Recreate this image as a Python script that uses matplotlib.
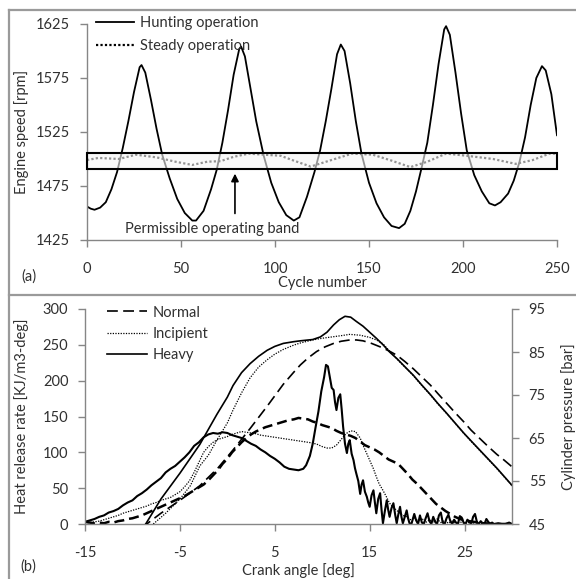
import matplotlib
matplotlib.use("Agg")
import matplotlib.pyplot as plt
from matplotlib.patches import Rectangle
from matplotlib.lines import Line2D

plt.rcParams['font.family'] = ['Lato', 'DejaVu Sans']
plt.rcParams['font.size'] = 10.5
plt.rcParams['axes.unicode_minus'] = False

TXT = '#303030'
AXC = '#868686'

# ---------------- (a) engine speed data ----------------
hunt_cycle = [0, 2, 4, 7, 10, 13, 16, 19, 22, 25, 28, 29, 31, 34, 37, 40, 44, 48, 52, 56, 58,
              62, 66, 69, 72, 75, 78, 81, 82, 84, 87, 90, 94, 98, 102, 106, 110, 113,
              117, 121, 124, 127, 130, 133, 135, 137, 140, 143, 146, 150, 154, 158, 162, 166,
              169, 172, 175, 178, 181, 184, 187, 190, 191, 193, 196, 199, 202, 206, 210, 214,
              217, 220, 224, 227, 230, 233, 236, 239, 242, 244, 247, 250]
hunt_rpm = [1456, 1454, 1453, 1455, 1460, 1472, 1488, 1510, 1535, 1562, 1585, 1587, 1580, 1555,
            1528, 1504, 1482, 1463, 1450, 1443, 1443,
            1452, 1472, 1490, 1515, 1545, 1578, 1602, 1604, 1595, 1565, 1535, 1503, 1478,
            1460, 1448, 1443, 1446,
            1465, 1488, 1508, 1535, 1565, 1597, 1606, 1600, 1570, 1535, 1505, 1478, 1459,
            1446, 1438, 1436,
            1440, 1452, 1470, 1492, 1515, 1550, 1588, 1620, 1623, 1615, 1580, 1542, 1508,
            1485, 1470, 1459,
            1457, 1460, 1468, 1480, 1497, 1520, 1550, 1575, 1586, 1582, 1560, 1522]

steady_cycle = [0, 6, 17, 26, 37, 47, 56, 64, 71, 78, 86, 94, 103, 110, 119, 129, 141, 152,
                162, 172, 181, 191, 202, 216, 228, 237, 246, 250]
steady_rpm = [1499, 1501, 1500, 1504, 1501.5, 1497.5, 1494.5, 1497.5, 1498, 1502, 1505, 1504,
              1503, 1498.5, 1493, 1498.5, 1505, 1504, 1498.5, 1492.5, 1497.5, 1505, 1503,
              1500, 1495.5, 1499, 1505, 1505]

band_low, band_high = 1491, 1506
arrow_cycle = 78.7

# ---------------- (b) combustion data ----------------
p_heavy_ca = [-9.0, -8.6, -7.0, -5.0, -2.9, -1.1, 0.0, 0.6, 1.5, 2.4, 3.3, 4.2, 5.0, 5.9, 7.0,
              7.7, 9.0, 9.8, 10.5, 11.2, 11.8, 12.4, 13.0, 13.6, 14.3, 15.0, 15.7, 16.4, 17.1,
              17.9, 18.7, 19.6, 20.5, 21.4, 22.2, 23.1, 24.0, 24.9, 25.7, 26.6, 27.5, 28.4,
              29.2, 30.0]
p_heavy = [44.0, 45.0, 50.8, 56.8, 63.5, 70.5, 74.5, 77.2, 80.2, 82.3, 84.0, 85.4, 86.3, 87.0,
           87.4, 87.6, 87.9, 88.5, 89.6, 91.3, 92.5, 93.3, 93.1, 92.1, 91.0, 89.6, 88.2, 86.7,
           85.0, 83.4, 81.6, 79.6, 77.3, 75.1, 73.0, 70.8, 68.5, 66.2, 64.3, 62.2, 60.1, 58.0,
           56.0, 54.0]

p_inc_ca = [-8.5, -7.8, -6.5, -5.0, -3.9, -2.9, -2.0, -1.1, 0.0, 0.6, 1.5, 2.4, 3.3, 4.2, 5.0,
            5.9, 7.0, 7.7, 9.0, 10.0, 11.0, 12.0, 12.9, 14.0, 15.0, 15.7, 16.4, 17.1, 17.9,
            18.7, 19.6, 20.5, 21.4, 22.2, 23.1, 24.0, 24.9, 25.7, 26.6, 27.5, 28.4, 29.2, 30.0]
p_inc = [44.0, 45.0, 47.5, 50.8, 53.9, 58.5, 61.0, 64.5, 68.5, 71.5, 75.5, 79.0, 81.5, 83.2,
         84.5, 85.6, 86.6, 87.1, 87.8, 88.2, 88.5, 88.8, 89.1, 88.9, 88.4, 87.8, 86.9, 85.2,
         83.3, 81.5, 79.5, 77.2, 75.0, 72.9, 70.7, 68.4, 66.1, 64.2, 62.1, 60.0, 57.9, 55.9,
         53.9]

p_norm_ca = [-9.0, -8.5, -7.0, -5.0, -2.9, -1.0, 0.6, 2.4, 4.2, 5.9, 7.0, 7.7, 8.5, 9.4, 10.3,
             11.2, 12.0, 12.9, 13.6, 14.3, 15.2, 16.1, 17.0, 17.9, 18.7, 19.6, 20.5, 21.4,
             22.2, 23.1, 24.0, 24.9, 25.7, 26.6, 27.5, 28.4, 29.2, 30.0]
p_norm = [44.0, 45.0, 47.5, 50.5, 53.9, 58.0, 62.2, 67.2, 72.4, 77.5, 80.3, 82.0, 83.6, 85.1,
          86.2, 87.0, 87.5, 87.8, 87.8, 87.6, 87.0, 86.2, 85.3, 84.2, 82.8, 81.1, 79.2, 77.3,
          75.3, 73.1, 70.9, 68.8, 66.8, 64.9, 63.0, 61.2, 59.8, 58.3]

hrr_heavy_ca = [-15, -14.5, -14, -13.5, -13, -12.5, -12, -11.5, -11, -10.5, -10, -9.5, -9,
                -8.5, -8, -7.5, -7, -6.5, -6, -5.5, -5, -4.5, -4, -3.5, -3, -2.5, -2, -1.5,
                -1, -0.5, 0, 0.5, 1, 1.5, 2, 2.5, 3, 3.5, 4, 4.5, 5, 5.5, 6, 6.5, 7, 7.5, 8,
                8.3, 8.7, 9.0, 9.3, 9.6, 9.9, 10.2, 10.4, 10.6, 10.8, 11.0, 11.2, 11.35, 11.5,
                11.7, 11.9, 12.05, 12.2, 12.4, 12.6, 12.75, 12.9, 13.1, 13.3, 13.45, 13.6,
                13.8, 14.0, 14.15, 14.3, 14.5, 14.7, 14.85, 15.0, 15.2, 15.4, 15.55, 15.7,
                15.9, 16.1, 16.25, 16.4, 16.6, 16.8, 16.95, 17.1, 17.3, 17.5, 17.7, 17.85,
                18.0, 18.2, 18.35, 18.5, 18.7, 18.9, 19.05, 19.2, 19.4, 19.7, 19.9, 20.1,
                20.3, 20.5, 20.7, 20.9, 21.1, 21.3, 21.5, 21.7, 21.9, 22.1, 22.3, 22.5, 22.7,
                22.9, 23.1, 23.3, 23.5, 23.7, 23.9, 24.1, 24.3, 24.5, 24.7, 24.9, 25.1, 25.3,
                25.5, 25.7, 25.9, 26.1, 26.3, 26.5, 26.7, 26.9, 27.1, 27.3, 27.5, 27.7, 27.9,
                28.1, 28.5, 28.9, 29.3, 29.7, 30.0]
hrr_heavy = [3, 5, 7, 10, 12, 16, 18, 21, 26, 30, 33, 39, 43, 48, 54, 59, 64, 72, 77, 81, 87,
             93, 100, 109, 114, 121, 125, 127, 126, 128, 127, 124, 122, 120, 116, 112, 109,
             104, 100, 95, 91, 86, 80, 77, 76, 75, 77,
             82, 95, 112, 135, 157, 185, 205, 222, 220, 205, 190, 187, 170, 159,
             176, 181, 160, 136, 112, 99, 112, 117, 98, 89, 78, 70,
             60, 42, 55, 61, 45, 38, 30, 24, 40, 47, 30, 15,
             35, 43, 20, 1, 18, 33, 20, 10, 22, 29, 12, 1,
             12, 24, 10, 1, 10, 19, 8, 1, 0, 14, 5, 0,
             12, 2, 0, 8, 15, 4, 0, 10, 3, 0, 12, 16, 2,
             0, 8, 13, 4, 0, 6, 2, 0, 11, 9, 2, 0, 6,
             3, 0, 10, 14, 3, 0, 4, 1, 0, 7, 3, 0, 2,
             0, 1, 0, 0, 2, 0]

hrr_norm_ca = [-15, -14.5, -14, -13.5, -13, -12.5, -12, -11.5, -11, -10.5, -10, -9.5, -9, -8.5,
               -8, -7.5, -7, -6.5, -6, -5.5, -5, -4.5, -4, -3.5, -3, -2.5, -2, -1.5, -1, -0.5,
               0, 0.5, 1, 1.5, 2, 2.5, 3, 3.5, 4, 4.5, 5, 5.5, 6, 6.5, 7, 7.5, 8, 8.5, 9, 9.5,
               10, 10.5, 11, 11.5, 12, 12.5, 13, 13.5, 14, 14.5, 15, 15.5, 16, 16.5, 17, 17.5,
               18, 18.5, 19, 19.5, 20, 20.5, 21, 21.5, 22, 22.5, 23, 23.5, 24, 24.5, 25, 25.5,
               26, 26.5, 27, 28, 29, 30]
hrr_norm = [3, 2, 1, 2, 1, 3, 2, 4, 5, 7, 8, 10, 12, 15, 18, 21, 24, 27, 30, 33, 36, 39, 43,
            47, 51, 55, 61, 68, 75, 84, 91, 100, 107, 114, 120, 125, 129, 132, 135, 137, 139,
            141, 143, 145, 146, 148, 147, 146, 143, 141, 138, 136, 134, 130, 127, 125, 123,
            120, 115, 110, 107, 104, 100, 95, 90, 87, 84, 77, 70, 62, 56, 49, 42, 35, 28, 23,
            18, 14, 10, 7, 5, 4, 3, 2, 1, 0.5, 0, 0]

hrr_inc_ca = [-15, -14.5, -14, -13.5, -13, -12.5, -12, -11.5, -11, -10.5, -10, -9.5, -9, -8.5,
              -8, -7.5, -7, -6.5, -6, -5.5, -5, -4.5, -4, -3.5, -3, -2.5, -2, -1.5, -1, -0.5,
              0, 0.5, 1, 1.5, 2, 2.5, 3, 3.5, 4, 4.5, 5, 5.5, 6, 6.5, 7, 7.5, 8, 8.5, 9, 9.5,
              10, 10.5, 11, 11.5, 12, 12.5, 13, 13.5, 14, 14.3, 14.7, 15.0, 15.4, 15.7, 16.0,
              16.4, 16.8, 17.1, 17.5, 17.85, 18.2, 18.5, 18.9, 19.3, 19.7, 20.1, 20.5, 20.9,
              21.3, 21.7, 22.1, 22.5, 22.9, 23.3, 23.7, 24.1, 24.5, 25, 25.5, 26, 27, 28, 29,
              30]
hrr_inc = [2, 2, 3, 4, 6, 8, 10, 12, 15, 17, 19, 21, 23, 25, 28, 30, 33, 35, 37, 41, 45, 52,
           60, 72, 86, 100, 108, 114, 118, 120, 122, 125, 127, 129, 128, 127, 126, 124, 123,
           122, 121, 120, 119, 118, 117, 116, 115, 114, 113, 111, 108, 106, 106, 110, 118,
           126, 130, 129, 120, 110, 98, 89, 77, 66, 56,
           47, 37, 29, 23, 19, 15, 12, 10, 6, 9, 4, 8, 2,
           6, 3, 7, 2, 5, 1, 4, 0, 3, 1, 2, 0, 1, 0, 0,
           0]

# ---------------- figure ----------------
W, H = 576, 579
fig = plt.figure(figsize=(W / 100, H / 100), dpi=100)

def frac(x0, y0, x1, y1):
    return [x0 / W, 1 - y1 / H, (x1 - x0) / W, (y1 - y0) / H]

# panel frames
for (xa, ya, xb, yb) in [(9, 9.5, W, 9.5), (9, 9.5, 9, H), (9, 295, W, 295)]:
    fig.add_artist(Line2D([xa / W, xb / W], [1 - ya / H, 1 - yb / H], color='#9a9a9a', lw=1.6))

def style(ax, sides):
    for s in ['left', 'right', 'top', 'bottom']:
        ax.spines[s].set_visible(s in sides)
        ax.spines[s].set_color(AXC)
        ax.spines[s].set_linewidth(1.0)
    ax.tick_params(direction='out', length=5, width=1.0, color=AXC, labelcolor=TXT,
                   labelsize=10.5)
    ax.tick_params(axis='y', pad=7)
    ax.tick_params(axis='x', pad=11)

# ---- (a)
ax = fig.add_axes(frac(87, 24, 557, 240))
style(ax, ['left', 'bottom'])
ax.plot(hunt_cycle, hunt_rpm, color='black', lw=1.3, label='Hunting operation')
ax.plot(steady_cycle, steady_rpm, color='black', lw=1.6, ls=(0, (1, 1)),
        label='Steady operation')
ax.add_patch(Rectangle((0, band_low), 250, band_high - band_low, facecolor=(0.96, 0.96, 0.96, 0.6),
                       edgecolor='black', lw=1.5, zorder=5, clip_on=False))
ax.annotate('', xy=(arrow_cycle, 1489), xytext=(arrow_cycle, 1447),
            arrowprops=dict(arrowstyle='-|>', color='black', lw=1.2, mutation_scale=11))
ax.text(66.8, 1435, 'Permissible operating band', ha='center', va='center', fontsize=10.5,
        color=TXT)
ax.set_xlim(0, 250)
ax.set_ylim(1425, 1625)
ax.set_xticks(range(0, 251, 50))
ax.set_yticks(range(1425, 1626, 50))
ax.set_xlabel('Cycle number', fontsize=10.5, color=TXT)
ax.xaxis.set_label_coords(0.5, -0.165)
ax.set_ylabel('Engine speed [rpm]', fontsize=10.5, color=TXT)
ax.yaxis.set_label_coords(-0.123, 0.5)
leg = ax.legend(loc='upper left', bbox_to_anchor=(0.019, 1.036), frameon=False,
                borderpad=0, borderaxespad=0, handlelength=2.6, handletextpad=0.4,
                labelspacing=0.6, fontsize=10.5)
for t in leg.get_texts():
    t.set_color(TXT)
fig.text(29 / W, 1 - 277 / H, '(a)', ha='center', va='center', fontsize=10.5, color=TXT)

# ---- (b)
bx = fig.add_axes(frac(85, 309, 512, 524))
style(bx, ['left', 'bottom'])
px = bx.twinx()
style(px, ['right'])
px.tick_params(axis='y', pad=7)

dash = (0, (6.5, 3.2))
dot = (0, (1, 1.1))
bx.plot(hrr_norm_ca, hrr_norm, color='black', lw=1.8, ls=(0, (4, 2)))
bx.plot(hrr_inc_ca, hrr_inc, color='black', lw=0.9, ls=dot)
bx.plot(hrr_heavy_ca, hrr_heavy, color='black', lw=1.5)
h1, = px.plot(p_norm_ca, p_norm, color='black', lw=1.2, ls=dash, label='Normal')
h2, = px.plot(p_inc_ca, p_inc, color='black', lw=0.9, ls=dot, label='Incipient')
h3, = px.plot(p_heavy_ca, p_heavy, color='black', lw=1.2, label='Heavy')

bx.set_xlim(-15, 30)
bx.set_ylim(0, 300)
px.set_ylim(45, 95)
bx.set_xticks([-15, -5, 5, 15, 25])
bx.set_yticks(range(0, 301, 50))
px.set_yticks(range(45, 96, 10))
bx.set_xlabel('Crank angle [deg]', fontsize=10.5, color=TXT)
bx.xaxis.set_label_coords(0.5, -0.18)
bx.set_ylabel('Heat release rate [KJ/m3-deg]', fontsize=10.5, color=TXT)
bx.yaxis.set_label_coords(-0.131, 0.5)
px.set_ylabel('Cylinder pressure [bar]', fontsize=10.5, color=TXT)
px.yaxis.set_label_coords(1.115, 0.5)
leg2 = px.legend(handles=[h1, h2, h3], loc='upper left', bbox_to_anchor=(0.0515, 1.016),
                 frameon=False, borderpad=0, borderaxespad=0, handlelength=2.75,
                 handletextpad=0.35, labelspacing=0.5, fontsize=10.5)
for t in leg2.get_texts():
    t.set_color(TXT)
fig.text(28 / W, 1 - 567 / H, '(b)', ha='center', va='center', fontsize=10.5, color=TXT)

fig.savefig('out.png', dpi=100)
